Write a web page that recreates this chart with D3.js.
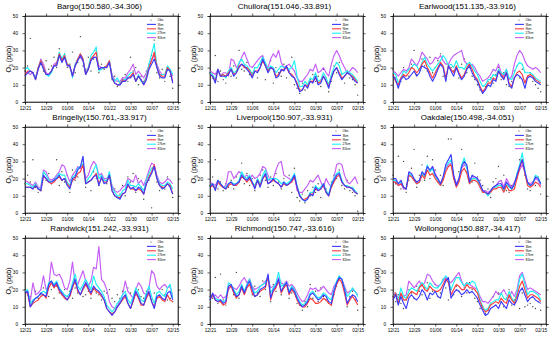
<!DOCTYPE html>
<html>
<head>
<meta charset="utf-8">
<script src="https://cdn.jsdelivr.net/npm/d3@7"></script>
<style>
    body { margin: 0; background: #fff; }
    svg { display: block; font-family: "Liberation Sans", Arial, sans-serif; }
</style>
</head>
<body>
<svg id="chart" width="550" height="337"></svg>
<script>
// x axis: day index 0 = 12/21 ... 56 = 02/15
var dateLabels = ["12/21", "12/29", "01/06", "01/14", "01/22", "01/30", "02/07", "02/15"];
var yTicks = [0, 10, 20, 30, 40, 50];
var seriesNames = ["Obs", "3km", "9km", "27km", "81km"];
var siteNames = ["Bargo", "Chullora", "Earlwood", "Bringelly", "Liverpool", "Oakdale", "Randwick", "Richmond", "Wollongong"];
var siteCoords = ["150.580,-34.306", "151.046,-33.891", "151.135,-33.916", "150.761,-33.917", "150.907,-33.931",
    "150.498,-34.051", "151.242,-33.931", "150.747,-33.616", "150.887,-34.417"];

var bargo3 = [15,17,18,17,13,19,23,19, 16,16,18,21,21,27,23,26, 21,21,15,21,24,27,24,16, 19,24,26,26,19,20,20,20, 23,14,11,10,10,12,12,14, 14,16,12,15,13,10,13,19, 22,25,20,15,14,14,19,18, 11];
var bargo9 = [16,18,18,17,13,20,24,20, 16,16,18,21,22,28,24,27, 22,21,15,21,25,28,25,16, 19,25,27,29,19,20,20,21, 24,14,11,10,10,13,12,14, 15,17,12,15,13,10,14,20, 24,29,20,16,15,15,20,18, 12];
var bargo27 = [19,20,18,17,14,20,24,20, 16,15,17,21,22,29,25,28, 22,21,14,22,25,28,25,16, 20,27,29,32,18,19,20,21, 24,15,12,14,11,13,13,15, 17,17,12,16,12,11,15,22, 28,34,21,16,16,16,21,19, 16];
var bargo81 = [17,17,16,17,14,19,25,22, 17,16,18,22,23,27,24,26, 22,20,16,21,25,26,24,17, 20,25,26,26,21,20,20,21, 23,16,13,12,12,14,14,17, 19,22,16,18,16,14,17,21, 25,27,22,18,16,16,20,19, 15];
var bargoObs = [18,21,37,17,15,20,22,18, 24,19,21,26,20,31,25,28, 20,22,29,17,23,38,21,19, 26,18,25,30,17,22,19,21, 22,13,15,9,11,14,16,12, 26,18,20,10,15,12,18,22, 27,36,17,14,19,12,20,15, 8];

var chullora3 = [16,15,11,19,15,15,15,16, 19,15,17,20,22,21,19,17, 14,18,17,20,25,21,17,20, 19,14,15,19,18,21,17,15, 14,10,6,7,10,8,12,11, 15,10,11,15,12,8,14,18, 20,16,13,15,17,16,14,12, 11];
var chullora9 = [16,15,12,19,15,16,15,17, 19,16,17,21,22,20,20,18, 15,18,18,20,24,21,18,20, 19,15,16,18,19,20,17,16, 14,11,7,7,10,9,12,12, 14,11,12,15,12,9,14,18, 20,17,14,15,17,16,15,13, 11];
var chullora27 = [17,16,13,19,15,16,14,18, 20,17,18,23,25,22,21,19, 16,20,20,23,26,23,19,21, 20,17,19,21,20,20,19,20, 24,15,9,9,12,10,14,13, 17,12,13,17,14,10,16,20, 23,21,16,17,18,17,16,14, 12];
var chullora81 = [18,17,16,19,15,17,17,15, 25,24,20,22,26,29,25,21, 20,22,24,26,27,22,20,25, 28,26,30,23,20,21,22,20, 18,14,12,12,14,16,19,18, 22,17,18,20,17,15,22,27, 30,27,23,20,17,18,20,19, 17];
var chulloraObs = [17,14,27,12,18,13,11,17, 15,21,14,30,19,18,23,16, 17,20,14,22,26,13,19,24, 11,20,17,15,22,14,18,26, 10,8,5,11,7,9,13,16, 12,15,9,19,14,6,12,21, 17,23,16,11,18,14,13,10, 4];

var earlwood3 = [15,13,8,13,15,13,14,16, 18,15,17,21,20,19,15,12, 15,19,22,20,12,21,18,15, 20,16,13,15,19,21,17,14, 12,8,5,7,10,9,13,12, 18,15,13,17,10,8,14,16, 15,13,8,14,15,14,12,11, 10];
var earlwood9 = [16,12,10,14,16,15,17,20, 19,17,19,22,24,20,17,14, 17,20,23,21,14,21,19,17, 21,17,14,16,20,22,19,15, 13,9,6,8,11,11,14,13, 18,16,14,17,11,9,14,17, 18,16,11,15,16,15,13,12, 11];
var earlwood27 = [17,16,11,14,18,17,19,20, 22,21,18,23,26,22,20,18, 20,22,24,27,25,21,22,20, 24,20,20,19,22,23,21,18, 16,12,9,10,13,13,16,15, 19,17,16,19,14,13,17,21, 23,22,17,17,17,16,14,13, 12];
var earlwood81 = [18,17,15,17,19,18,20,25, 23,21,24,29,27,25,22,23, 26,25,27,24,22,22,25,27, 28,29,30,24,22,21,22,20, 17,15,12,13,14,16,19,18, 22,17,15,19,13,15,22,27, 30,28,24,21,20,19,20,19, 17];
var earlwoodObs = [19,14,10,12,20,17,15,22, 30,16,19,25,21,18,26,17, 20,24,28,15,13,22,20,18, 19,14,22,25,17,20,15,13, 10,7,6,9,12,14,11,16, 20,13,17,10,9,12,18,21, 14,19,9,15,17,12,10,8, 6];

var bringelly3 = [15,15,15,14,16,14,13,22, 20,18,18,19,20,22,19,20, 16,14,20,21,25,27,33,17, 18,19,21,22,16,21,17,18, 22,13,10,9,8,11,12,17, 14,15,13,15,14,11,17,20, 23,27,20,16,14,15,17,15, 11];
var bringelly9 = [15,15,15,14,16,14,13,21, 20,18,17,18,20,21,19,20, 17,15,19,20,23,24,28,17, 18,19,21,23,17,20,18,18, 22,13,10,9,9,11,12,16, 14,14,13,14,13,11,17,21, 24,28,20,16,15,15,17,16, 11];
var bringelly27 = [17,17,16,15,17,14,14,24, 22,19,18,19,21,23,22,22, 18,16,21,22,26,27,29,18, 20,22,25,28,20,22,19,19, 24,15,12,10,10,13,14,19, 16,16,15,17,15,13,19,23, 26,27,21,17,16,16,18,17, 14];
var bringelly81 = [19,18,17,16,18,15,15,25, 24,20,19,20,22,24,28,27, 22,18,22,24,27,26,28,20, 22,27,30,28,22,23,20,20, 22,16,13,12,13,15,16,20, 19,18,22,17,19,16,20,25, 29,28,22,18,17,18,20,19, 17];
var bringellyObs = [17,22,18,31,15,12,13,21, 19,23,17,20,31,16,24,18, 22,12,25,19,21,26,30,15, 18,13,24,20,16,22,19,17, 23,15,14,9,11,16,10,21, 18,23,12,20,15,8,17,19, 3,26,18,13,15,14,21,16, 9];

var liverpool3 = [15,17,13,19,17,15,14,17, 18,16,17,18,22,20,19,21, 18,14,19,15,20,23,17,18, 20,18,17,15,18,16,17,19, 22,15,10,8,7,8,11,10, 15,13,14,17,12,10,16,19, 22,23,18,16,15,15,14,12, 11];
var liverpool9 = [15,16,14,18,16,15,14,16, 17,16,16,18,21,20,18,20, 17,15,19,16,20,22,17,18, 19,18,17,15,17,16,17,18, 21,15,10,8,8,9,11,11, 14,13,14,16,12,10,15,18, 21,22,18,16,15,15,14,12, 11];
var liverpool27 = [16,17,14,19,17,15,15,17, 18,17,17,19,24,21,20,22, 18,16,20,17,22,25,19,20, 20,20,19,17,18,17,18,20, 23,16,11,8,7,9,12,12, 16,14,15,17,13,11,17,20, 23,24,19,16,16,15,15,13, 11];
var liverpool81 = [18,17,16,19,17,15,16,24, 24,20,22,24,23,21,22,20, 22,20,21,23,27,26,22,18, 20,25,29,30,22,21,20,19, 22,13,12,12,14,16,19,18, 20,22,18,15,20,17,15,21, 28,29,28,22,18,17,19,21, 17];
var liverpoolObs = [16,21,31,14,18,13,17,15, 19,14,21,18,29,17,23,16, 20,13,18,22,25,19,15,21, 16,23,18,14,20,17,22,12, 26,9,7,11,6,13,10,15, 12,17,9,16,14,11,18,22, 20,25,16,14,19,13,12,10, 1];

var oakdale3 = [20,20,17,19,15,14,24,23, 20,18,19,24,22,27,25,27, 22,20,17,21,28,31,34,22, 16,20,27,30,28,18,22,21, 20,17,13,12,11,13,15,16, 17,17,14,18,16,14,17,22, 27,31,24,18,16,17,21,20, 17];
var oakdale9 = [18,18,16,17,15,14,22,21, 19,17,18,22,20,25,22,23, 20,18,16,19,24,27,28,20, 15,18,24,26,23,17,19,19, 18,15,12,12,11,12,14,14, 15,15,12,16,13,13,14,20, 26,31,23,16,15,16,18,17, 15];
var oakdale27 = [19,19,17,18,15,14,23,22, 19,17,18,23,21,28,24,26, 21,19,16,20,27,29,31,21, 16,19,28,32,26,17,20,20, 19,16,12,12,10,12,15,15, 16,16,13,17,15,14,16,23, 28,35,25,17,16,17,22,21, 17];
var oakdale81 = [18,18,16,17,14,14,22,22, 19,17,18,22,22,27,24,27, 23,20,17,21,26,28,29,22, 17,20,26,28,27,19,21,21, 20,17,13,13,12,13,15,16, 18,19,15,20,17,15,18,21, 25,28,24,18,17,18,20,19, 16];
var oakdaleObs = [22,17,33,14,30,12,19,26, 37,15,22,28,19,33,20,31, 25,18,22,16,26,43,43,20, 17,24,37,29,24,20,18,29, 21,19,16,13,14,9,18,20, 27,15,22,13,12,16,15,20, 31,33,22,14,13,18,16,21, 11];

var randwick3 = [18,19,10,13,15,16,18,17, 16,23,25,22,24,20,18,16, 14,17,22,26,20,17,21,24, 21,18,22,20,19,17,14,9, 7,5,7,10,12,15,17,12, 9,14,19,16,12,11,16,19, 13,9,16,17,15,14,18,19, 14];
var randwick9 = [18,18,10,12,13,14,16,17, 15,21,24,21,23,19,17,15, 14,16,21,25,19,17,20,23, 20,17,21,19,18,16,14,9, 7,6,7,10,12,14,16,12, 9,13,18,15,11,11,15,18, 13,10,15,16,14,13,17,14, 13];
var randwick27 = [19,20,12,14,15,16,18,19, 18,24,25,23,25,21,19,17, 16,18,24,29,22,20,23,26, 23,20,28,23,21,19,16,11, 9,7,9,12,14,17,19,14, 12,16,21,18,14,13,18,22, 16,12,18,19,17,16,21,23, 15];
var randwick81 = [18,19,13,24,17,18,20,28, 20,22,36,29,28,29,26,21, 20,25,36,24,23,27,31,25, 22,25,33,32,45,26,24,20, 13,10,9,10,14,17,25,19, 17,15,20,24,22,18,17,21, 31,29,22,20,22,23,21,22, 16];
var randwickObs = [20,17,16,13,19,15,17,21, 18,16,20,15,22,18,17,20, 16,19,15,21,18,20,16,17, 19,15,20,18,17,14,19,18, 20,15,13,17,15,19,16,21, 18,14,17,20,16,15,19,17, 14,18,15,16,20,17,14,15, 13];

var richmond3 = [14,18,14,13,14,12,13,22, 23,19,16,17,22,18,22,25, 20,16,17,20,21,22,29,15, 20,22,26,19,22,24,18,21, 19,15,12,10,11,13,17,18, 16,14,15,17,16,13,12,19, 24,27,26,20,12,15,17,16, 13];
var richmond9 = [14,17,14,13,13,11,12,21, 22,18,15,17,21,17,21,23, 18,16,17,19,20,21,28,14, 19,21,25,18,21,23,17,20, 18,14,11,10,10,12,15,14, 12,12,13,15,14,12,11,18, 23,26,24,18,11,14,16,14, 11];
var richmond27 = [15,17,15,14,14,13,14,24, 23,20,17,19,23,19,23,26, 21,18,19,22,23,24,28,18, 21,24,30,22,23,24,19,22, 20,16,13,11,12,14,18,19, 17,15,16,18,17,15,14,20, 25,28,26,21,16,18,21,19, 16];
var richmond81 = [15,16,17,15,17,15,16,20, 22,21,20,22,25,27,24,26, 22,20,21,22,23,25,26,21, 22,23,27,24,23,25,22,23, 21,18,15,13,14,17,21,20, 21,19,20,22,20,18,17,22, 24,27,26,22,18,19,20,19, 17];
var richmondObs = [16,15,27,12,29,14,11,20, 22,17,30,15,21,19,24,26, 17,22,18,16,25,20,27,13, 23,19,26,17,22,24,15,18, 21,12,11,8,13,10,23,15, 19,13,21,16,14,12,11,17, 22,26,24,18,10,16,19,14, 8];

var wollongong3 = [14,17,11,16,12,9,15,17, 15,14,16,20,18,14,18,17, 19,16,15,21,25,27,15,18, 20,19,17,18,20,18,19,17, 15,11,8,5,6,9,10,11, 9,13,11,9,14,12,11,14, 19,21,17,13,15,16,14,13, 12];
var wollongong9 = [15,18,12,18,14,14,17,19, 18,17,21,23,20,19,22,20, 19,19,20,23,26,24,17,20, 23,22,20,20,23,21,21,20, 18,13,9,7,8,11,12,13, 12,15,13,12,17,14,12,16, 22,25,20,15,17,17,16,15, 13];
var wollongong27 = [16,18,14,21,16,15,19,21, 20,19,22,24,22,20,24,22, 21,21,23,26,28,26,20,24, 27,27,24,22,24,23,25,24, 20,14,10,8,9,12,13,14, 14,18,15,14,19,15,13,18, 26,29,23,17,19,19,18,17, 14];
var wollongong81 = [18,18,15,17,16,17,25,23, 21,23,25,22,24,29,28,25, 23,22,23,25,27,25,24,26, 28,30,25,22,24,23,22,21, 20,16,13,13,12,14,16,19, 17,18,20,17,15,19,16,20, 28,30,25,20,21,20,19,18, 17];
var wollongongObs = [16,13,17,12,9,14,20,18, 15,22,19,17,21,24,15,19, 23,16,18,26,21,14,20,17, 22,19,16,21,18,24,20,15, 13,9,10,6,8,12,16,11, 18,13,10,15,20,11,14,16, 9,18,10,11,12,10,9,13, 8];

var siteObs = [bargoObs, chulloraObs, earlwoodObs, bringellyObs, liverpoolObs, oakdaleObs, randwickObs, richmondObs, wollongongObs];
// model runs per site, in legend order: 3km, 9km, 27km, 81km
var siteRuns = [
    [bargo3, bargo9, bargo27, bargo81],
    [chullora3, chullora9, chullora27, chullora81],
    [earlwood3, earlwood9, earlwood27, earlwood81],
    [bringelly3, bringelly9, bringelly27, bringelly81],
    [liverpool3, liverpool9, liverpool27, liverpool81],
    [oakdale3, oakdale9, oakdale27, oakdale81],
    [randwick3, randwick9, randwick27, randwick81],
    [richmond3, richmond9, richmond27, richmond81],
    [wollongong3, wollongong9, wollongong27, wollongong81]
];

var runColors = ["#3b3bff", "#ff3b3b", "#1ef2f2", "#c45cf5"];

var setting = {
    colLeft: [25, 210, 393],
    rowTop: [16, 127, 238],
    plotW: 153,
    plotH: 86,
    lastDay: 58
};

var svg = d3.select("#chart");

var x = d3.scaleLinear().domain([0, setting.lastDay]).range([0, setting.plotW]);
var y = d3.scaleLinear().domain([0, 50]).range([setting.plotH, 0]);

/***
 * Draws one station panel
 * @param iSite index into the site arrays
 */
function drawPanel(iSite) {
    var col = iSite % 3,
        row = Math.floor(iSite / 3);
    var g = svg.append("g")
        .attr("transform", "translate(" + setting.colLeft[col] + "," + setting.rowTop[row] + ")");

    // title
    g.append("text")
        .attr("x", setting.plotW / 2 - 2)
        .attr("y", -7)
        .attr("text-anchor", "middle")
        .style("font-size", "8px")
        .text(siteNames[iSite] + "(" + siteCoords[iSite] + ")");

    // y axis label with subscript
    var yl = g.append("text")
        .attr("transform", "translate(-14," + (setting.plotH / 2) + ") rotate(-90)")
        .attr("text-anchor", "middle")
        .style("font-size", "7.2px");
    yl.append("tspan").text("O");
    yl.append("tspan").attr("dy", 1.6).style("font-size", "4.8px").text("3");
    yl.append("tspan").attr("dy", -1.6).text(" (ppb)");

    // left and bottom axes (ticks outward)
    var yAxis = d3.axisLeft(y).tickValues(yTicks).tickSize(2.5).tickPadding(4.5);
    g.append("g").attr("class", "ax").call(yAxis);

    var dayTicks = dateLabels.map(function (d, i) { return i * 8; });
    var xAxis = d3.axisBottom(x).tickValues(dayTicks).tickSize(2.5).tickPadding(2.5)
        .tickFormat(function (d, i) { return dateLabels[i]; });
    g.append("g").attr("class", "ax")
        .attr("transform", "translate(0," + setting.plotH + ")")
        .call(xAxis);

    // mirrored ticks on right and top
    g.append("g").attr("class", "ax")
        .attr("transform", "translate(" + setting.plotW + ",0)")
        .call(d3.axisRight(y).tickValues(yTicks).tickSize(2.5).tickFormat(""));
    g.append("g").attr("class", "ax")
        .call(d3.axisTop(x).tickValues(dayTicks).tickSize(2.5).tickFormat(""));

    g.selectAll(".ax text")
        .style("font-size", "4.7px")
        .style("font-family", "'Liberation Sans', Arial, sans-serif");
    g.selectAll(".ax path, .ax line")
        .attr("stroke", "#000")
        .attr("stroke-width", 0.6);

    // obs dots
    g.append("g").selectAll("circle")
        .data(siteObs[iSite])
        .enter()
        .append("circle")
        .attr("cx", function (d, i) { return x(i); })
        .attr("cy", function (d) { return y(d); })
        .attr("r", 0.7)
        .attr("fill", "#444");

    var line = d3.line()
        .x(function (d, i) { return x(i); })
        .y(function (d) { return y(d); });

    // coarse runs first so the 3km line ends up on top
    for (var iRun = 3; iRun >= 0; iRun--) {
        g.append("path")
            .datum(siteRuns[iSite][iRun])
            .attr("d", line)
            .attr("fill", "none")
            .attr("stroke", runColors[iRun])
            .attr("stroke-width", 1.15)
            .attr("stroke-linejoin", "round");
    }

    // frame
    g.append("rect")
        .attr("width", setting.plotW)
        .attr("height", setting.plotH)
        .attr("fill", "none")
        .attr("stroke", "#000")
        .attr("stroke-width", 0.6);

    drawLegend(g);
}

function drawLegend(g) {
    var lg = g.append("g")
        .attr("transform", "translate(" + (setting.plotW - 31) + ",4)");

    for (var i = 0; i < seriesNames.length; i++) {
        var rowY = i * 4.4;
        if (i == 0) {
            lg.append("circle")
                .attr("cx", 4)
                .attr("cy", rowY)
                .attr("r", 0.6)
                .attr("fill", "#444");
        } else {
            lg.append("line")
                .attr("x1", 0).attr("x2", 9)
                .attr("y1", rowY).attr("y2", rowY)
                .attr("stroke", runColors[i - 1])
                .attr("stroke-width", 1.1);
        }
        lg.append("text")
            .attr("x", 10.5)
            .attr("y", rowY + 1.1)
            .style("font-size", "3.2px")
            .text(seriesNames[i]);
    }
}

for (var iSite = 0; iSite < siteNames.length; iSite++) {
    drawPanel(iSite);
}
</script>
</body>
</html>
